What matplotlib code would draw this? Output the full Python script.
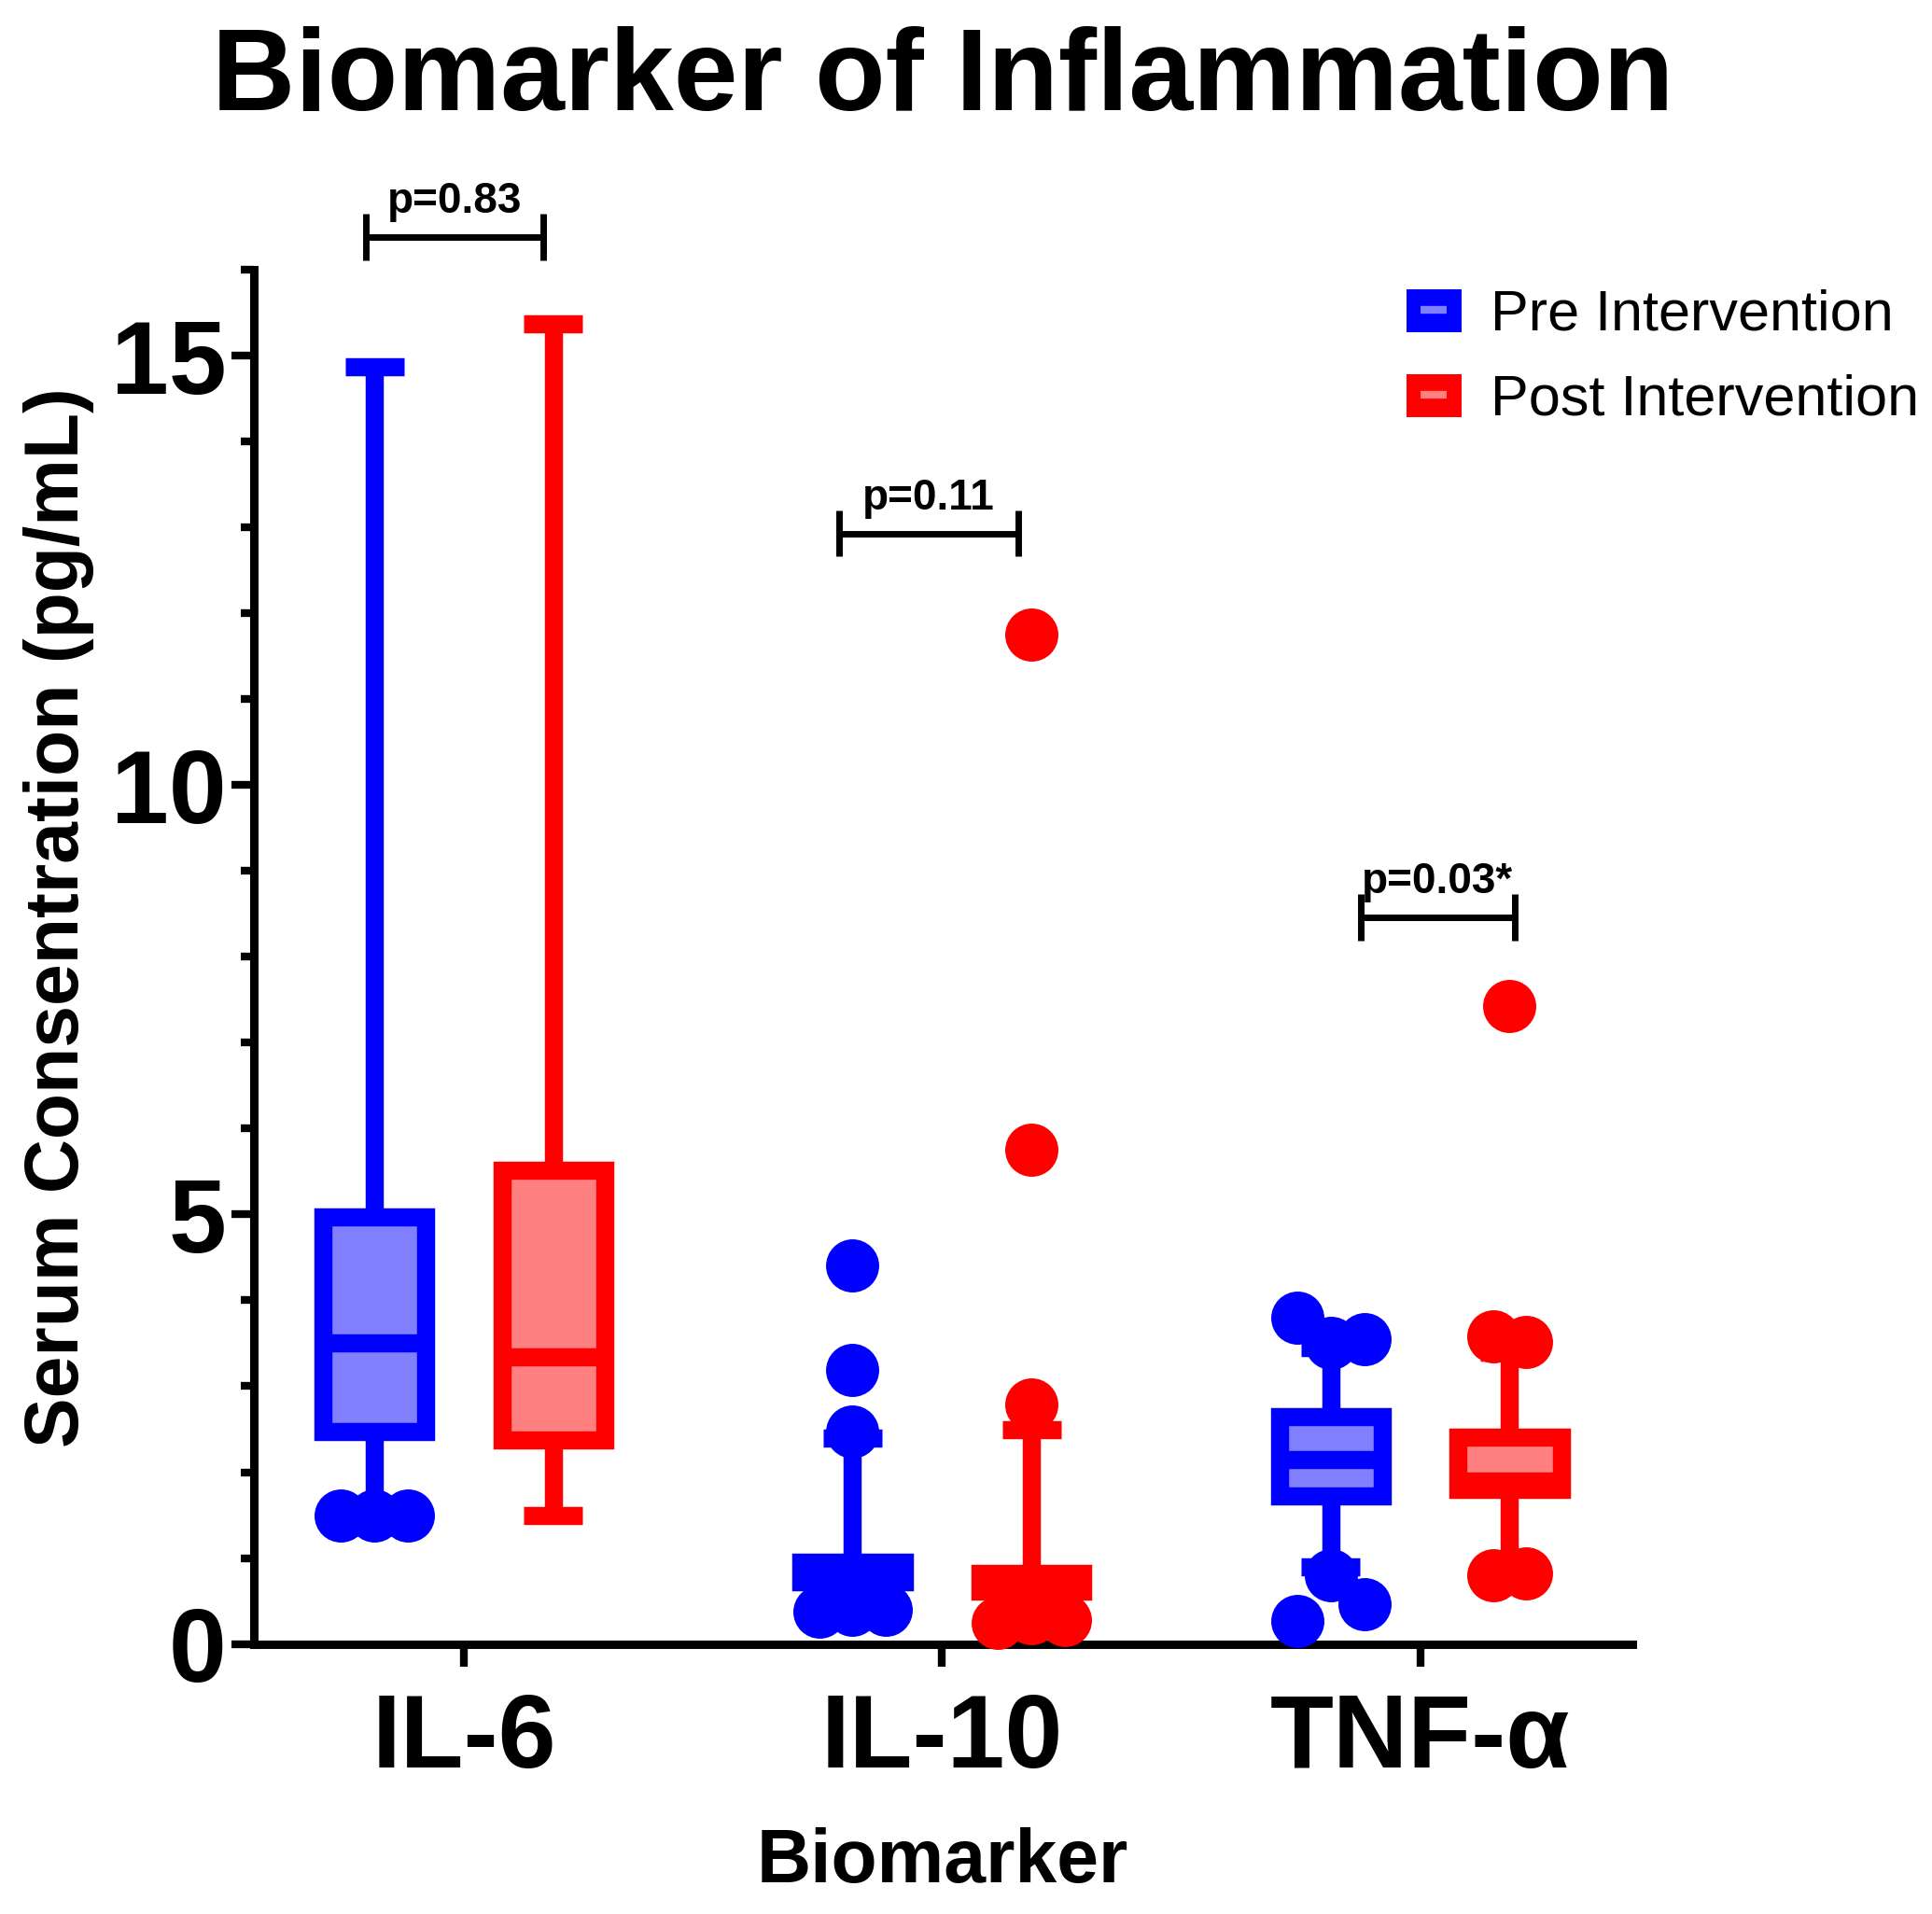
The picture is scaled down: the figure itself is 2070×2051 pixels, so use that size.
"""
Biomarker of inflammation: pre vs post intervention box plots (GraphPad look).
"""

import numpy as np
import matplotlib
matplotlib.use('Agg')
import matplotlib.pyplot as plt
from matplotlib.lines import Line2D
from matplotlib.patches import Patch
from matplotlib.ticker import MultipleLocator

plt.rcParams['font.family'] = ['Liberation Sans', 'DejaVu Sans']

# ==========================================
# Data (pg/mL)
# ==========================================
BIOMARKERS = ['IL-6', 'IL-10', 'TNF-α']
GROUPS = ['Pre Intervention', 'Post Intervention']

PRE_Q1 = [2.47, 0.72, 1.72]
PRE_MED = [3.50, 0.78, 2.15]
PRE_Q3 = [4.97, 0.95, 2.65]
PRE_WHISLO = [1.60, 0.45, 0.90]
PRE_WHISHI = [14.87, 2.40, 3.45]
PRE_FLIERS = [[1.50, 1.50, 1.50],
              [4.41, 3.19, 2.47, 0.40, 0.40, 0.38],
              [3.80, 3.55, 3.50, 0.80, 0.46, 0.27]]

POST_Q1 = [2.38, 0.62, 1.80]
POST_MED = [3.34, 0.72, 1.90]
POST_Q3 = [5.51, 0.82, 2.41]
POST_WHISLO = [1.50, 0.40, 0.95]
POST_WHISHI = [15.37, 2.50, 3.40]
POST_FLIERS = [[],
               [11.75, 5.75, 2.79, 0.30, 0.28, 0.25],
               [7.43, 3.58, 3.52, 0.82, 0.80]]

P_LABELS = ['p=0.83', 'p=0.11', 'p=0.03*']
P_BRACKET_Y = [16.38, 12.93, 8.46]

Y_TICKS = [0, 5, 10, 15]

# ==========================================
# Style
# ==========================================
EDGE = {'pre': '#0000FF', 'post': '#FF0000'}
FILL = {'pre': '#8080FF', 'post': '#FF8080'}
OFFSET = 0.187
BOX_W = 0.215
CAP_W = 0.123
LW = 14
DOT_MS = 41
DOT_STEP = 0.07
DOT_GAP = 0.6
BRACKET_X = [(-0.205, 0.166), (-0.215, 0.160), (-0.124, 0.197)]
BRACKET_TICK = 0.27


def make_stats(q1, med, q3, lo, hi):
    return [dict(q1=a, med=b, q3=c, whislo=d, whishi=e, fliers=[])
            for a, b, c, d, e in zip(q1, med, q3, lo, hi)]


def swarm(values, med):
    """Fan overlapping points sideways, the one nearest the box in the middle."""
    vals = sorted(values)
    clusters = []
    for v in vals:
        if clusters and v - clusters[-1][-1] < DOT_GAP:
            clusters[-1].append(v)
        else:
            clusters.append([v])
    xs, ys = [], []
    for c in clusters:
        n = len(c)
        if n % 2:
            slots = [0] + [s * k for k in range(1, n // 2 + 1) for s in (1, -1)]
        else:
            slots = [s * (k - 0.5) for k in range(1, n // 2 + 1) for s in (1, -1)]
        order = sorted(c, key=lambda v: abs(v - med))
        xs += [s * DOT_STEP for s in slots]
        ys += order
    return np.array(xs), np.array(ys)


def draw_group(ax, key, stats, fliers, centers):
    ax.bxp(stats, positions=centers, widths=BOX_W, capwidths=CAP_W,
           patch_artist=True, showfliers=False, manage_ticks=False,
           boxprops=dict(facecolor=FILL[key], edgecolor=EDGE[key], linewidth=LW),
           whiskerprops=dict(color=EDGE[key], linewidth=LW, solid_capstyle='butt'),
           capprops=dict(color=EDGE[key], linewidth=LW, solid_capstyle='butt'),
           medianprops=dict(color=EDGE[key], linewidth=LW, solid_capstyle='butt'))
    for pos, st, fl in zip(centers, stats, fliers):
        if not fl:
            continue
        dx, fy = swarm(fl, st['med'])
        ax.plot(pos + dx, fy, 'o', ms=DOT_MS, color=EDGE[key], mec='none',
                clip_on=False, zorder=4)


def main():
    fig = plt.figure(figsize=(20.70, 20.51), dpi=100)
    ax = fig.add_axes([0.1314, 0.1411, 0.845 - 0.1314, 0.8591 - 0.1411])

    x = np.arange(len(BIOMARKERS))
    pre_stats = make_stats(PRE_Q1, PRE_MED, PRE_Q3, PRE_WHISLO, PRE_WHISHI)
    post_stats = make_stats(POST_Q1, POST_MED, POST_Q3, POST_WHISLO, POST_WHISHI)
    draw_group(ax, 'pre', pre_stats, PRE_FLIERS, x - OFFSET)
    draw_group(ax, 'post', post_stats, POST_FLIERS, x + OFFSET)

    # p-value brackets
    for xi, (xl, xr), yb, lab in zip(x, BRACKET_X, P_BRACKET_Y, P_LABELS):
        ax.plot([xi + xl, xi + xr], [yb, yb], color='black', lw=5, clip_on=False,
                solid_capstyle='butt')
        for xe in (xi + xl, xi + xr):
            ax.plot([xe, xe], [yb - BRACKET_TICK, yb + BRACKET_TICK], color='black',
                    lw=5, clip_on=False, solid_capstyle='butt')
        ax.text(xi + (xl + xr) / 2, yb + 0.28, lab, ha='center', va='baseline',
                fontsize=33, fontweight='bold', clip_on=False)

    ax.set_xlim(-0.439, 2.444)
    ax.set_ylim(0, 16)
    ax.set_xticks(x, labels=BIOMARKERS, fontsize=80, fontweight='bold')
    ax.set_yticks(Y_TICKS, labels=[str(t) for t in Y_TICKS], fontsize=80,
                  fontweight='bold')
    ax.yaxis.set_minor_locator(MultipleLocator(1))

    for side in ('top', 'right'):
        ax.spines[side].set_visible(False)
    for side in ('left', 'bottom'):
        ax.spines[side].set_linewidth(6.5)
    ax.tick_params(axis='both', which='major', length=17, width=6, color='black')
    ax.tick_params(axis='y', which='minor', length=10, width=6)
    ax.tick_params(axis='y', which='major', pad=4)
    ax.tick_params(axis='x', which='major', pad=20)

    fig.text(0.488, 0.9425, 'Biomarker of Inflammation', ha='center', va='baseline',
             fontsize=89, fontweight='bold')
    fig.text(0.0304, 0.5207, 'Serum Consentration (pg/mL)', rotation=90,
             ha='center', va='center', fontsize=58, fontweight='bold')
    fig.text(0.488, 0.0166, 'Biomarker', ha='center', va='baseline',
             fontsize=58, fontweight='bold')

    # legend: coloured square with the pale median stripe in it
    handles = []
    for key in ('pre', 'post'):
        sq = Patch(facecolor=EDGE[key], edgecolor='none')
        stripe = Line2D([], [], color=FILL[key], marker='_', ms=20, mew=6, lw=0)
        handles.append((sq, stripe))
    fig.legend(handles, GROUPS, loc='upper left', bbox_to_anchor=(0.7278, 0.849),
               frameon=False, fontsize=44, handlelength=0.98, handleheight=0.78,
               handletextpad=0.5, labelspacing=0.55, borderpad=0, borderaxespad=0)

    fig.savefig('out.png', dpi=100, facecolor='white')
    plt.close(fig)


if __name__ == '__main__':
    main()
